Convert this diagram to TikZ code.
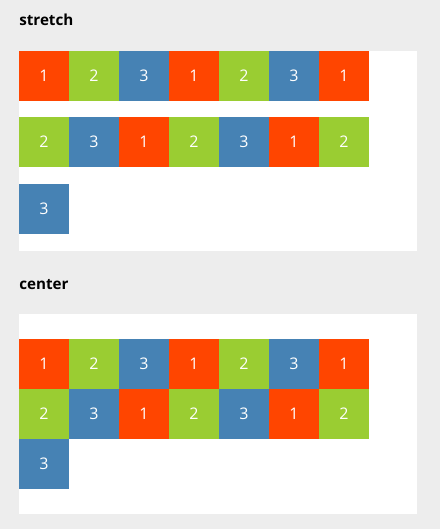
\documentclass[tikz,border=0pt]{standalone}
\usepackage{fontspec}
\setmainfont{Open Sans}
\usepackage{xcolor}
\usetikzlibrary{positioning}

\definecolor{pagegray}{HTML}{EDEDED}
\definecolor{orangered}{HTML}{FF4500}
\definecolor{yellowgreen}{HTML}{9ACD32}
\definecolor{steelblue}{HTML}{4682B4}

\tikzset{
  title/.style={anchor=base west, inner sep=0pt, font=\fontsize{11.4pt}{13pt}\selectfont\bfseries},
  cell/.style={minimum size=37.5pt, inner sep=0pt, text=white, font=\fontsize{12pt}{14pt}\selectfont},
  cell1/.style={cell, fill=orangered},
  cell2/.style={cell, fill=yellowgreen},
  cell3/.style={cell, fill=steelblue}
}

\begin{document}
\begin{tikzpicture}[x=0.75pt, y=-0.75pt]
                % page and containers
                \fill[pagegray] (0,0) rectangle (440,529);
                \fill[white] (19,51) rectangle (417,251);
                \fill[white] (19,314) rectangle (417,514);
            
                % Titles
                \node[title] (ts) at (19,25) {stretch};
                \node[title] (tc) at (19,289) {center};
            
                % stretch rows
                \foreach \n [count=\i from 0] in {1,2,3,1,2,3,1}
                  \node[cell\n] (sa\i) at (44+50*\i,76) {\n};
                \foreach \n [count=\i from 0] in {2,3,1,2,3,1,2}
                  \node[cell\n] (sb\i) at (44+50*\i,142) {\n};
                \node[cell3] (sc0) at (44,209) {3};
            
                % center rows
                \foreach \n [count=\i from 0] in {1,2,3,1,2,3,1}
                  \node[cell\n] (ca\i) at (44+50*\i,364) {\n};
                \foreach \n [count=\i from 0] in {2,3,1,2,3,1,2}
                  \node[cell\n] (cb\i) at (44+50*\i,414) {\n};
                \node[cell3] (cc0) at (44,464) {3};
            \end{tikzpicture}
\end{document}
